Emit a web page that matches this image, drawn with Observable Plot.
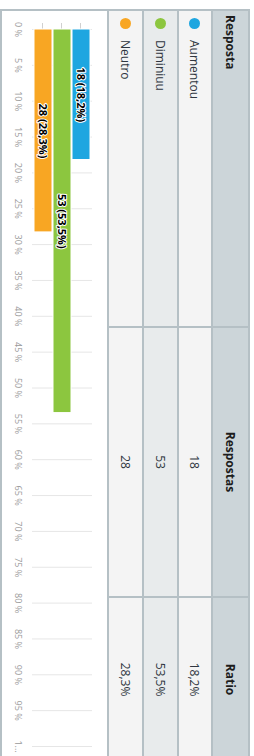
<!DOCTYPE html>
<html>
<head>
<meta charset="utf-8">
<script src="https://cdn.jsdelivr.net/npm/d3@7"></script>
<script src="https://cdn.jsdelivr.net/npm/@observablehq/plot@0.6"></script>
<style>
  html, body { margin: 0; padding: 0; overflow: hidden; background: #fff; width: 254px; height: 756px; }
  #rot { position: absolute; left: 0; top: 0; width: 756px; height: 254px; overflow: hidden;
         transform-origin: 0 0; transform: translate(254px, 0) rotate(90deg); background: #fff;
         font-family: "Open Sans", sans-serif; }
  #grid { position: absolute; left: 9px; top: 4px; padding: 2px; background: #b5c0c5;
          display: grid; grid-template-columns: 315px 268px 163px; grid-template-rows: 35px 32px 33px 33px 105px; gap: 2px; }
  .cell { display: flex; align-items: center; font-size: 12px; color: #2f3640; }
  .hdr { background: #ccd5d9; font-weight: bold; color: #1d1d1d; }
  .r0, .r2 { background: #f4f4f4; }
  .r1 { background: #e8ebec; }
  .c0 { padding-left: 4px; }
  .c1, .c2 { justify-content: center; }
  .dot { width: 11px; height: 11px; border-radius: 50%; margin-left: 3px; margin-right: 11px; }
  #chart { grid-column: 1 / span 3; background: #fff; }
</style>
</head>
<body>
<div id="rot"><div id="grid"></div></div>
<script>
const categories = ["Aumentou", "Diminiuu", "Neutro"];
const counts = [18, 53, 28];
const ratios = [18.2, 53.5, 28.3];
const headers = ["Resposta", "Respostas", "Ratio"];
const xTicks = [0, 5, 10, 15, 20, 25, 30, 35, 40, 45, 50, 55, 60, 65, 70, 75, 80, 85, 90, 95, 100];
const xTickLabels = ["0 %", "5 %", "10 %", "15 %", "20 %", "25 %", "30 %", "35 %", "40 %", "45 %", "50 %",
  "55 %", "60 %", "65 %", "70 %", "75 %", "80 %", "85 %", "90 %", "95 %", "1..."];
const palette = ["#1ea6e0", "#8cc63f", "#f8a623"];

const fmt = v => v.toFixed(1).replace(".", ",");
const rows = categories.map((c, i) => ({cat: c, count: counts[i], ratio: ratios[i], label: `${counts[i]} (${fmt(ratios[i])}%)`}));

const grid = document.getElementById("grid");
headers.forEach((h, j) => {
  const d = document.createElement("div");
  d.className = `cell hdr c${j}`;
  d.textContent = h;
  grid.appendChild(d);
});
rows.forEach((r, i) => {
  const a = document.createElement("div");
  a.className = `cell r${i} c0`;
  const dot = document.createElement("span");
  dot.className = "dot";
  dot.style.background = palette[i];
  a.appendChild(dot);
  a.appendChild(document.createTextNode(r.cat));
  grid.appendChild(a);
  const b = document.createElement("div");
  b.className = `cell r${i} c1`;
  b.textContent = String(r.count);
  grid.appendChild(b);
  const c = document.createElement("div");
  c.className = `cell r${i} c2`;
  c.textContent = fmt(r.ratio) + "%";
  grid.appendChild(c);
});

const chartCell = document.createElement("div");
chartCell.id = "chart";
grid.appendChild(chartCell);

const plot = Plot.plot({
  width: 750,
  height: 105,
  marginLeft: 18,
  marginRight: 15,
  marginTop: 15,
  marginBottom: 30,
  style: {fontFamily: "Open Sans, sans-serif", background: "transparent"},
  x: {domain: [0, 100], axis: null, label: null},
  y: {domain: categories, padding: 0.05, axis: null, label: null},
  color: {domain: categories, range: palette},
  marks: [
    Plot.gridX(xTicks, {stroke: "#e6e6e6", strokeOpacity: 1}),
    Plot.axisX(xTicks, {tickSize: 0, tickPadding: 10, fontSize: 9, fill: "#9a9a9a", label: null,
      tickFormat: d => xTickLabels[xTicks.indexOf(d)]}),
    Plot.axisY({tickSize: 6, tickFormat: null, stroke: "#d0d0d0", label: null}),
    Plot.barX(rows, {x: "ratio", y: "cat", fill: "cat", stroke: "#fff", strokeWidth: 1}),
    Plot.text(rows, {x: d => d.ratio / 2, y: "cat", text: "label", fontSize: 11, fontWeight: "bold",
      fill: "#000", stroke: "#fff", strokeWidth: 2, paintOrder: "stroke"})
  ]
});
chartCell.appendChild(plot);
</script>
</body>
</html>
